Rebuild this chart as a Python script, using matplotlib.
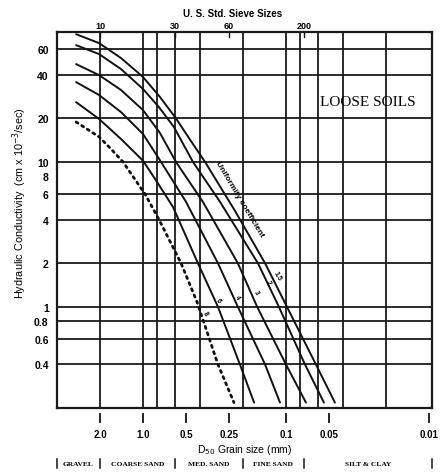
import math
import matplotlib
matplotlib.use("Agg")
import matplotlib.pyplot as plt
import matplotlib.transforms as mtransforms

plt.rcParams['font.family'] = ['Liberation Sans', 'DejaVu Sans']

# ---------------- data ----------------
uc_labels = ["1.5", "2", "3", "4", "6", "8"]

uc15_d = [2.94, 2.03, 1.425, 1.0, 0.761, 0.588, 0.462, 0.368, 0.227, 0.140, 0.0984, 0.0617, 0.0454]
uc15_k = [76.3, 66.2, 52.2, 38.6, 28.1, 20.0, 13.95, 10.0, 4.59, 2.0, 1.0, 0.4, 0.218]

uc2_d = [2.94, 2.03, 1.425, 1.0, 0.773, 0.607, 0.447, 0.289, 0.157, 0.112, 0.0736, 0.0542]
uc2_k = [64.1, 55.6, 43.8, 31.9, 23.9, 17.4, 10.0, 5.30, 2.0, 1.0, 0.4, 0.218]

uc3_d = [2.94, 2.03, 1.425, 1.0, 0.761, 0.588, 0.381, 0.217, 0.159, 0.100, 0.0724]
uc3_k = [47.4, 39.8, 31.4, 22.8, 15.85, 10.0, 5.30, 2.0, 1.0, 0.4, 0.218]

uc4_d = [2.94, 2.03, 1.425, 1.0, 0.748, 0.500, 0.299, 0.217, 0.140, 0.110]
uc4_k = [35.6, 29.0, 22.1, 15.6, 10.0, 5.30, 2.0, 1.0, 0.4, 0.218]

uc6_d = [2.94, 2.03, 1.425, 1.0, 0.798, 0.617, 0.413, 0.299, 0.210, 0.167]
uc6_k = [25.9, 19.8, 14.4, 10.2, 7.28, 4.89, 2.0, 1.0, 0.4, 0.218]

uc8_d = [2.94, 2.03, 1.675, 1.38, 0.968, 0.773, 0.542, 0.419, 0.299, 0.231]
uc8_k = [18.9, 14.9, 12.3, 10.0, 6.0, 4.0, 2.0, 1.08, 0.4, 0.218]

# label anchor points (grain size mm, K)
uc_label_d = [0.1156, 0.1336, 0.162, 0.220, 0.299, 0.368]
uc_label_k = [1.636, 1.487, 1.269, 1.172, 1.117, 0.909]

y_grid = [60, 40, 20, 10, 6, 4, 2, 1, 0.8, 0.6, 0.4]
y_ticks = [60, 40, 20, 10, 8, 6, 4, 2, 1, 0.8, 0.6, 0.4]
y_ticklabels = ["60", "40", "20", "10", "8", "6", "4", "2", "1", "0.8", "0.6", "0.4"]

x_grid = [2.0, 1.0, 0.8, 0.6, 0.4, 0.2, 0.1, 0.08, 0.06, 0.04, 0.02]
x_ticks = [2.0, 1.0, 0.5, 0.25, 0.1, 0.05, 0.01]
x_ticklabels = ["2.0", "1.0", "0.5", "0.25", "0.1", "0.05", "0.01"]

sieve_sizes_mm = [2.0, 0.6, 0.25, 0.075]
sieve_labels = ["10", "30", "60", "200"]

class_bounds = [4.0, 2.0, 0.6, 0.2, 0.075, 0.0095]
class_names = ["GRAVEL", "COARSE SAND", "MED. SAND", "FINE SAND", "SILT & CLAY"]

# ---------------- figure ----------------
fig = plt.figure(figsize=(4.43, 4.77), dpi=100)
ax = fig.add_axes([57/443, 1 - 409/477, 375/443, 376/477])
ax.set_xscale('log')
ax.set_yscale('log')
ax.set_xlim(4.0, 0.0095)
ax.set_ylim(0.2, 79)

for v in y_grid:
    ax.axhline(v, color='#1a1a1a', lw=1.3, zorder=1)
for v in x_grid:
    ax.axvline(v, color='#1a1a1a', lw=1.3, zorder=1)

for s in ax.spines.values():
    s.set_linewidth(1.6)
    s.set_color('#1a1a1a')

curves = [(uc15_d, uc15_k), (uc2_d, uc2_k), (uc3_d, uc3_k),
          (uc4_d, uc4_k), (uc6_d, uc6_k)]
for d, k in curves:
    ax.plot(d, k, color='#111111', lw=1.4, zorder=3,
            solid_capstyle='round', solid_joinstyle='round')
ax.plot(uc8_d, uc8_k, color='#111111', lw=2.0, zorder=3,
        linestyle=(0, (0.8, 1.6)), dash_capstyle='round')

for lab, d, k in zip(uc_labels, uc_label_d, uc_label_k):
    ax.text(d, k, lab, fontsize=5, rotation=-60, ha='center', va='center',
            fontweight='bold', zorder=4)

ax.text(0.210, 5.56, "Uniformity coefficient", fontsize=6, rotation=-59,
        ha='center', va='center', fontweight='bold', zorder=4)

ax.text(0.0267, 26.3, "LOOSE SOILS", family=['Liberation Serif'],
        fontsize=11, ha='center', va='center', zorder=4)

# y ticks
ax.set_yticks(y_ticks)
ax.set_yticklabels(y_ticklabels)
ax.yaxis.set_minor_locator(matplotlib.ticker.NullLocator())
ax.tick_params(axis='y', length=0, pad=6, labelsize=7.5)
for t in ax.get_yticklabels():
    t.set_fontweight('bold')

# bottom x ticks drawn as detached marks
ax.set_xticks([])
ax.xaxis.set_minor_locator(matplotlib.ticker.NullLocator())
trans = mtransforms.blended_transform_factory(ax.transData, ax.transAxes)
for v, lab in zip(x_ticks, x_ticklabels):
    ax.plot([v, v], [-0.016, -0.038], transform=trans, color='#111111',
            lw=1.3, clip_on=False)
    ax.text(v, -0.068, lab, transform=trans, ha='center', va='center',
            fontsize=7, fontweight='bold')

ax.text(0.5, -0.108, r"D$_{50}$ Grain size (mm)", transform=ax.transAxes,
        ha='center', va='center', fontsize=7.5)

# soil class row
for b in class_bounds:
    ax.plot([b, b], [-0.136, -0.160], transform=trans, color='#111111',
            lw=1.1, clip_on=False)
for i, name in enumerate(class_names):
    c = math.sqrt(class_bounds[i] * class_bounds[i + 1])
    ax.text(c, -0.148, name, transform=trans, ha='center', va='center',
            fontsize=5.4, family=['Liberation Serif'], fontweight='bold')

# top sieve axis
for v, lab in zip(sieve_sizes_mm, sieve_labels):
    ax.plot([v, v], [1.0, 0.988], transform=trans, color='#111111', lw=1.0,
            clip_on=False)
    ax.text(v, 1.018, lab, transform=trans, ha='center', va='center',
            fontsize=6.5, fontweight='bold')

fig.text(233/443, 1 - 14/477, "U. S. Std. Sieve Sizes",
         ha='center', va='center', fontsize=7, fontweight='bold')

fig.text(20/443, 1 - 203/477,
         r"Hydraulic Conductivity  (cm x 10$^{-3}$/sec)",
         rotation=90, ha='center', va='center', fontsize=7.8)

fig.savefig("out.png", dpi=100)
